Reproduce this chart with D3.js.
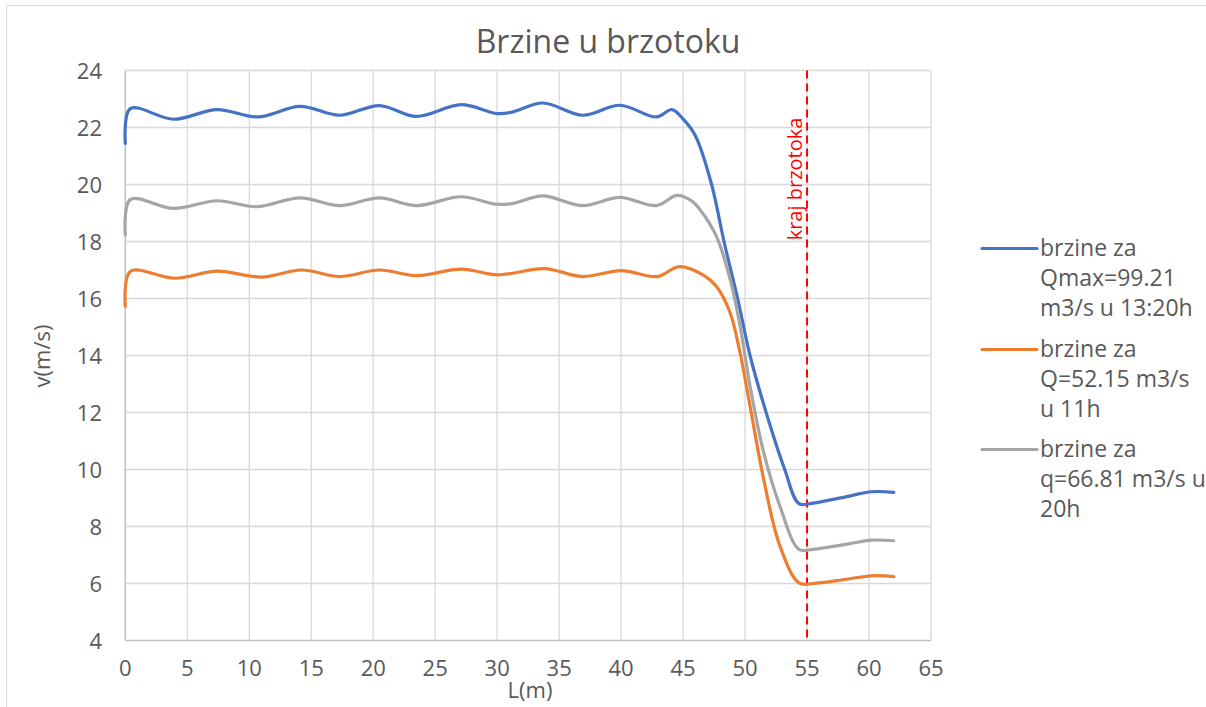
<!DOCTYPE html>
<html>
<head>
<meta charset="utf-8">
<script src="https://cdn.jsdelivr.net/npm/d3@7"></script>
<style>
  html, body { margin: 0; padding: 0; background: #ffffff; }
  svg { display: block; }
  text { font-family: "Open Sans", "DejaVu Sans", sans-serif; }
</style>
</head>
<body>
<svg id="chart" width="1206" height="707"></svg>
<script>
// Distance along the chute (m) and velocity (m/s) for each discharge
const lQmax = [0, 0.4, 3.9, 7.4, 10.7, 14.1, 17.3, 20.5, 23.5, 27.1, 30.0, 31.2, 33.7, 36.9, 39.9, 42.85, 44.1, 45.0, 46.0, 47.3, 48.3, 49.4, 50.4, 51.7, 53.2, 54.35, 55.5, 58.2, 60.2, 62];
const vQmax = [21.44, 22.66, 22.29, 22.63, 22.37, 22.74, 22.43, 22.77, 22.39, 22.8, 22.49, 22.54, 22.86, 22.43, 22.78, 22.37, 22.63, 22.3, 21.7, 20.0, 18.0, 16.0, 14.0, 12.0, 10.0, 8.8, 8.82, 9.05, 9.22, 9.2];

const lQ52 = [0, 0.4, 4.0, 7.4, 11.0, 14.2, 17.3, 20.5, 23.5, 27.1, 30.1, 33.8, 36.9, 40.0, 42.9, 44.7, 46.6, 47.7, 48.8, 49.6, 50.4, 51.5, 52.8, 54.35, 55.5, 58.2, 60.2, 62];
const vQ52 = [15.72, 16.95, 16.71, 16.96, 16.75, 17.0, 16.77, 17.0, 16.8, 17.03, 16.83, 17.05, 16.77, 16.98, 16.77, 17.12, 16.83, 16.42, 15.49, 14.09, 12.23, 9.66, 7.33, 6.02, 6.0, 6.15, 6.27, 6.24];

const lQ66 = [0, 0.4, 3.9, 7.4, 10.6, 14.1, 17.3, 20.5, 23.5, 27.1, 29.9, 31.2, 33.7, 36.9, 39.9, 42.85, 44.5, 45.6, 46.4, 47.7, 48.8, 49.6, 50.4, 51.5, 52.8, 54.35, 55.5, 58.2, 60.2, 62];
const vQ66 = [18.23, 19.47, 19.16, 19.43, 19.22, 19.53, 19.26, 19.53, 19.26, 19.57, 19.31, 19.33, 19.6, 19.26, 19.55, 19.26, 19.62, 19.45, 19.1, 18.17, 16.66, 15.03, 12.93, 10.6, 8.73, 7.2, 7.2, 7.38, 7.52, 7.5];

const xTicks = [0, 5, 10, 15, 20, 25, 30, 35, 40, 45, 50, 55, 60, 65];
const yTicks = [4, 6, 8, 10, 12, 14, 16, 18, 20, 22, 24];
const chuteEnd = 55;

const seriesNames = [
  ["brzine za", "Qmax=99.21", "m3/s u 13:20h"],
  ["brzine za", "Q=52.15 m3/s", "u 11h"],
  ["brzine za", "q=66.81 m3/s u", "20h"]
];
const seriesColors = ["#4472C4", "#ED7D31", "#A5A5A5"];
const seriesL = [lQmax, lQ52, lQ66];
const seriesV = [vQmax, vQ52, vQ66];

const svg = d3.select("#chart");
const textColor = "#595959";

const x = d3.scaleLinear().domain([0, 65]).range([125.3, 931]);
const y = d3.scaleLinear().domain([4, 24]).range([640.5, 70.5]);

function label(g, px, py, str, size, anchor, rot, color) {
  return g.append("text")
    .attr("transform", `translate(${px},${py}) rotate(${rot || 0})`)
    .attr("text-anchor", anchor)
    .attr("font-size", size)
    .attr("fill", color || textColor)
    .text(str);
}

// chart frame
svg.append("rect")
  .attr("x", 6.5).attr("y", 5.5)
  .attr("width", 1210).attr("height", 720)
  .attr("fill", "#ffffff").attr("stroke", "#d9d9d9").attr("stroke-width", 1);

// gridlines
const grid = svg.append("g");
grid.selectAll("line.v").data(xTicks.slice(1)).join("line")
  .attr("x1", d => x(d)).attr("x2", d => x(d))
  .attr("y1", y(24)).attr("y2", y(4))
  .attr("stroke", "#d9d9d9").attr("stroke-width", 1.3);
grid.selectAll("line.h").data(yTicks.slice(1)).join("line")
  .attr("x1", x(0)).attr("x2", x(65))
  .attr("y1", d => y(d)).attr("y2", d => y(d))
  .attr("stroke", "#d9d9d9").attr("stroke-width", 1.3);

// axis lines
svg.append("line").attr("x1", x(0)).attr("x2", x(0)).attr("y1", y(24)).attr("y2", y(4))
  .attr("stroke", "#bfbfbf").attr("stroke-width", 1.5);
svg.append("line").attr("x1", x(0)).attr("x2", x(65)).attr("y1", y(4)).attr("y2", y(4))
  .attr("stroke", "#bfbfbf").attr("stroke-width", 1.5);

// tick labels
const ticks = svg.append("g");
yTicks.forEach(t => label(ticks, 102, y(t) + 8, String(t), 22, "end"));
xTicks.forEach(t => label(ticks, x(t), 676, String(t), 22, "middle"));

// axis titles and chart title
label(svg, 530, 698, "L(m)", 22, "middle");
label(svg, 50, 356, "v(m/s)", 22, "middle", -90);
label(svg, 608, 53, "Brzine u brzotoku", 32, "middle");

// end of chute marker
svg.append("line")
  .attr("x1", x(chuteEnd)).attr("x2", x(chuteEnd))
  .attr("y1", y(24)).attr("y2", y(4))
  .attr("stroke", "#ff0000").attr("stroke-width", 2)
  .attr("stroke-dasharray", "8,5");
label(svg, x(chuteEnd) - 5, 179, "kraj brzotoka", 20, "middle", -90, "#ff0000");

// velocity lines
const line = d3.line()
  .x(d => x(d[0])).y(d => y(d[1]))
  .curve(d3.curveCatmullRom.alpha(0.5));

seriesL.forEach((ls, i) => {
  const pts = ls.map((l, j) => [l, seriesV[i][j]]);
  svg.append("path")
    .attr("d", line(pts))
    .attr("fill", "none")
    .attr("stroke", seriesColors[i])
    .attr("stroke-width", 3.2)
    .attr("stroke-linecap", "round")
    .attr("stroke-linejoin", "round");
});

// legend
const legend = svg.append("g");
const legendLineY = [248.5, 349.5, 449.5];
seriesNames.forEach((lines, i) => {
  legend.append("line")
    .attr("x1", 982).attr("x2", 1037)
    .attr("y1", legendLineY[i]).attr("y2", legendLineY[i])
    .attr("stroke", seriesColors[i]).attr("stroke-width", 3.2)
    .attr("stroke-linecap", "round");
  lines.forEach((s, k) => label(legend, 1040, legendLineY[i] + 7 + k * 30, s, 23, "start"));
});
</script>
</body>
</html>
